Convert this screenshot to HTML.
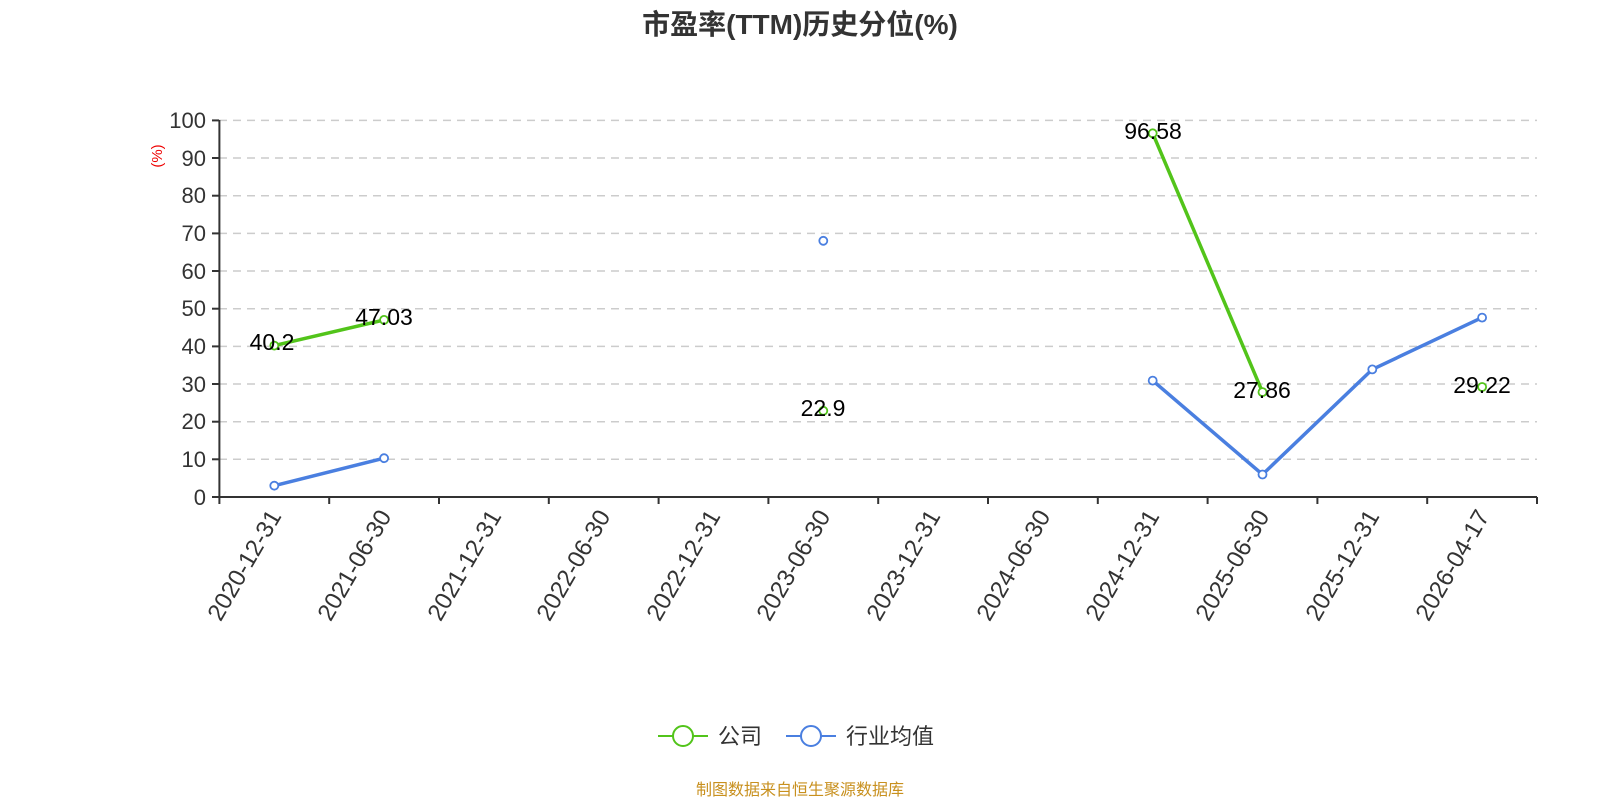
<!DOCTYPE html>
<html><head><meta charset="utf-8"><style>body{margin:0;background:#fff}svg{display:block}</style></head><body>
<svg width="1600" height="800" xmlns="http://www.w3.org/2000/svg" font-family="'Liberation Sans','Noto Sans CJK SC',sans-serif">
<text x="800" y="34" text-anchor="middle" font-size="28" font-weight="bold" fill="#333">市盈率(TTM)历史分位(%)</text>
<g stroke="#ccc" stroke-width="1.5" stroke-dasharray="8,6">
<line x1="219" x2="1537" y1="120.4" y2="120.4"/><line x1="219" x2="1537" y1="158" y2="158"/><line x1="219" x2="1537" y1="195.7" y2="195.7"/><line x1="219" x2="1537" y1="233.4" y2="233.4"/><line x1="219" x2="1537" y1="271" y2="271"/><line x1="219" x2="1537" y1="308.7" y2="308.7"/><line x1="219" x2="1537" y1="346.4" y2="346.4"/><line x1="219" x2="1537" y1="384" y2="384"/><line x1="219" x2="1537" y1="421.7" y2="421.7"/><line x1="219" x2="1537" y1="459.3" y2="459.3"/>
</g>
<g stroke="#333" stroke-width="2">
<line x1="219.4" y1="120" x2="219.4" y2="497"/><line x1="219.4" y1="497" x2="1537" y2="497"/>
<line x1="212" x2="219" y1="120.4" y2="120.4"/><line x1="212" x2="219" y1="158" y2="158"/><line x1="212" x2="219" y1="195.7" y2="195.7"/><line x1="212" x2="219" y1="233.4" y2="233.4"/><line x1="212" x2="219" y1="271" y2="271"/><line x1="212" x2="219" y1="308.7" y2="308.7"/><line x1="212" x2="219" y1="346.4" y2="346.4"/><line x1="212" x2="219" y1="384" y2="384"/><line x1="212" x2="219" y1="421.7" y2="421.7"/><line x1="212" x2="219" y1="459.3" y2="459.3"/><line x1="212" x2="219" y1="497" y2="497"/>
<line x1="219.4" x2="219.4" y1="497" y2="504"/><line x1="329.2" x2="329.2" y1="497" y2="504"/><line x1="439" x2="439" y1="497" y2="504"/><line x1="548.8" x2="548.8" y1="497" y2="504"/><line x1="658.6" x2="658.6" y1="497" y2="504"/><line x1="768.4" x2="768.4" y1="497" y2="504"/><line x1="878.2" x2="878.2" y1="497" y2="504"/><line x1="988" x2="988" y1="497" y2="504"/><line x1="1097.8" x2="1097.8" y1="497" y2="504"/><line x1="1207.6" x2="1207.6" y1="497" y2="504"/><line x1="1317.4" x2="1317.4" y1="497" y2="504"/><line x1="1427.2" x2="1427.2" y1="497" y2="504"/><line x1="1537" x2="1537" y1="497" y2="504"/>
</g>
<g font-size="22" fill="#333" text-anchor="end">
<text x="206" y="128">100</text><text x="206" y="166">90</text><text x="206" y="203">80</text><text x="206" y="241">70</text><text x="206" y="279">60</text><text x="206" y="316">50</text><text x="206" y="354">40</text><text x="206" y="392">30</text><text x="206" y="429">20</text><text x="206" y="467">10</text><text x="206" y="505">0</text>
</g>
<text transform="translate(162,156) rotate(-90)" text-anchor="middle" font-size="15" fill="#e00">(%)</text>
<g font-size="24" fill="#333" text-anchor="end">
<text transform="translate(282,516) rotate(-60)">2020-12-31</text>
<text transform="translate(392,516) rotate(-60)">2021-06-30</text>
<text transform="translate(502,516) rotate(-60)">2021-12-31</text>
<text transform="translate(611,516) rotate(-60)">2022-06-30</text>
<text transform="translate(721,516) rotate(-60)">2022-12-31</text>
<text transform="translate(831,516) rotate(-60)">2023-06-30</text>
<text transform="translate(941,516) rotate(-60)">2023-12-31</text>
<text transform="translate(1051,516) rotate(-60)">2024-06-30</text>
<text transform="translate(1160,516) rotate(-60)">2024-12-31</text>
<text transform="translate(1270,516) rotate(-60)">2025-06-30</text>
<text transform="translate(1380,516) rotate(-60)">2025-12-31</text>
<text transform="translate(1490,516) rotate(-60)">2026-04-17</text>
</g>
<g fill="none" stroke-width="3.5">
<polyline points="274.3,345.6 384.1,319.9" stroke="#52c41a"/>
<polyline points="1152.7,133.3 1262.5,392.1" stroke="#52c41a"/>
<polyline points="274.3,485.7 384.1,458.2" stroke="#4a7fe0"/>
<polyline points="1152.7,380.6 1262.5,474.5 1372.3,369.4 1482.1,317.6" stroke="#4a7fe0"/>
</g>
<g fill="#fff" stroke-width="1.8" stroke="#52c41a">
<circle cx="274.3" cy="345.6" r="4"/><circle cx="384.1" cy="319.9" r="4"/><circle cx="823.3" cy="410.8" r="4"/><circle cx="1152.7" cy="133.3" r="4"/><circle cx="1262.5" cy="392.1" r="4"/><circle cx="1482.1" cy="387" r="4"/>
</g>
<g fill="#fff" stroke-width="1.8" stroke="#4a7fe0">
<circle cx="274.3" cy="485.7" r="4"/><circle cx="384.1" cy="458.2" r="4"/><circle cx="823.3" cy="240.8" r="4"/><circle cx="1152.7" cy="380.6" r="4"/><circle cx="1262.5" cy="474.5" r="4"/><circle cx="1372.3" cy="369.4" r="4"/><circle cx="1482.1" cy="317.6" r="4"/>
</g>
<g font-size="23" fill="#000" text-anchor="middle">
<text x="272" y="350">40.2</text><text x="384" y="325">47.03</text><text x="823" y="416">22.9</text><text x="1153" y="139">96.58</text><text x="1262" y="398">27.86</text><text x="1482" y="393">29.22</text>
</g>
<g>
<line x1="658" x2="708" y1="736" y2="736" stroke="#52c41a" stroke-width="2"/><circle cx="683" cy="736" r="10" fill="#fff" stroke="#52c41a" stroke-width="2"/>
<text x="718" y="744" font-size="22" fill="#333">公司</text>
<line x1="786" x2="836" y1="736" y2="736" stroke="#4a7fe0" stroke-width="2"/><circle cx="811" cy="736" r="10" fill="#fff" stroke="#4a7fe0" stroke-width="2"/>
<text x="846" y="744" font-size="22" fill="#333">行业均值</text>
</g>
<text x="800" y="795" text-anchor="middle" font-size="16" fill="#c8901e">制图数据来自恒生聚源数据库</text>
</svg>
</body></html>
